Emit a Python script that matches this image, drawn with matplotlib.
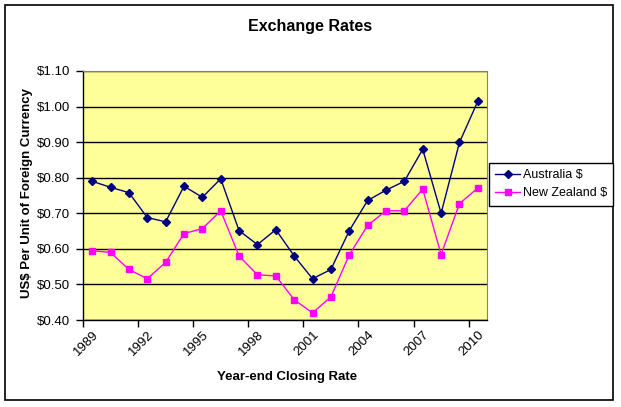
import matplotlib.pyplot as plt
from matplotlib.patches import Rectangle

years = list(range(1989, 2011))
australia = [0.790, 0.773, 0.758, 0.688, 0.676, 0.776, 0.745, 0.797, 0.651, 0.612, 0.654,
             0.580, 0.516, 0.542, 0.651, 0.736, 0.765, 0.790, 0.880, 0.700, 0.899, 1.015]
new_zealand = [0.595, 0.590, 0.542, 0.516, 0.562, 0.643, 0.657, 0.707, 0.580, 0.527, 0.524,
               0.457, 0.420, 0.465, 0.583, 0.666, 0.707, 0.707, 0.768, 0.584, 0.727, 0.771]
y_ticks = [0.40, 0.50, 0.60, 0.70, 0.80, 0.90, 1.00, 1.10]

plt.rcParams['font.family'] = ['Liberation Sans', 'DejaVu Sans']

W, H = 621, 407
fig = plt.figure(figsize=(W / 100, H / 100), dpi=100)

# outer chart border
fig.patches.append(Rectangle((5 / W, 1 - 400 / H), 608 / W, 395 / H, transform=fig.transFigure,
                             fill=False, edgecolor='black', linewidth=1.2))

ax = fig.add_axes([83 / W, 1 - 320 / H, 404 / W, 249 / H])
ax.set_facecolor('#FFFF99')

x = list(range(len(years)))
ax.plot(x, australia, color='#000080', marker='D', markersize=4, linewidth=1, label='Australia $')
ax.plot(x, new_zealand, color='#FF00FF', marker='s', markersize=5, linewidth=1, label='New Zealand $')

ax.set_xlim(-0.5, len(years) - 0.5)
ax.set_ylim(0.40, 1.10)
ax.set_yticks(y_ticks)
ax.set_yticklabels(['$%.2f' % v for v in y_ticks], fontsize=9.5)
ax.yaxis.grid(True, color='black', linewidth=1)
ax.set_axisbelow(True)

# labels every 3 years, tick marks on category boundaries
ax.set_xticks(x[::3])
ax.set_xticklabels([str(y) for y in years[::3]], rotation=45, ha='right', va='top', fontsize=9.5,
                   rotation_mode='anchor')
ax.tick_params(axis='x', length=0, pad=6)
ax.set_xticks([i - 0.5 for i in x[::3]], minor=True)
ax.tick_params(axis='x', which='minor', length=5, width=1, direction='out')
ax.tick_params(axis='y', length=5, width=1, direction='out', pad=4)

ax.spines['top'].set_color('#808080')
ax.spines['right'].set_color('#808080')
ax.spines['left'].set_linewidth(1)
ax.spines['bottom'].set_linewidth(1)

fig.text(310 / W, 1 - 27 / H, 'Exchange Rates', ha='center', va='center', fontsize=11.5, fontweight='bold')
fig.text(287 / W, 1 - 377 / H, 'Year-end Closing Rate', ha='center', va='center', fontsize=9.5, fontweight='bold')
fig.text(27 / W, 1 - 193 / H, 'US$ Per Unit of Foreign Currency', ha='center', va='center',
         rotation=90, fontsize=9.5, fontweight='bold')

leg = fig.legend(loc='upper left', bbox_to_anchor=(489 / W, 1 - 163 / H), fontsize=9,
                 frameon=True, fancybox=False, edgecolor='black', framealpha=1,
                 borderpad=0.5, borderaxespad=0, handlelength=2.0, handletextpad=0.2,
                 labelspacing=0.5)
leg.get_frame().set_linewidth(1)

fig.savefig('out.png', dpi=100)
